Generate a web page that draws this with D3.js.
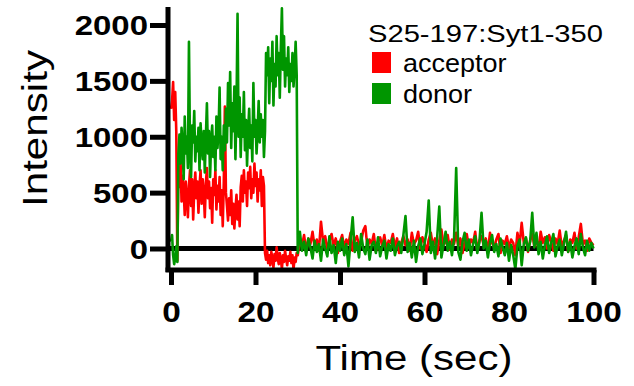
<!DOCTYPE html>
<html>
<head>
<meta charset="utf-8">
<script src="https://cdn.jsdelivr.net/npm/d3@7"></script>
<style>
  html, body { margin: 0; padding: 0; background: #fff; }
  svg { display: block; font-family: "Liberation Sans", Arial, Helvetica, sans-serif; }
</style>
</head>
<body>
<svg id="chart" width="634" height="386"></svg>
<script>
// ---------------- DATA ----------------
const xTicks = [0, 20, 40, 60, 80, 100];
const yTicks = [0, 500, 1000, 1500, 2000];
const legendTitle = "S25-197:Syt1-350";
const seriesNames = ["acceptor", "donor"];
const xLabel = "Time (sec)";
const yLabel = "Intensity";

// segment 1: t = 0 .. 29.75 s, sampled every 0.25 s
const seg1Start = 0, seg1Step = 0.25;
const acceptorSeg1 = [
  1250, 1320, 1490, 1150, 1400, 1050, -110, 700, 550, 800,
  420, 650, 520, 300, 600, 460, 280, 560, 700, 380,
  620, 260, 520, 680, 450, 600, 320, 560, 700, 400,
  620, 500, 280, 580, 720, 450, 600, 360, 540, 230,
  620, 480, 700, 350, 560, 420, 640, 300, 520, 200,
  600, 1270, 500, 380, 250, 450, 300, 520, 220, 400,
  180, 350, 480, 260, 420, 200, 550, 650, 420, 700,
  500, 600, 380, 680, 540, 730, 450, 620, 500, 760,
  560, 680, 420, 620, 520, 700, 380, 640, 560, -40,
  -100, -20, -130, -60, -150, -30, -90, -170, -50, -110,
  10, -80, -140, -40, -100, -180, -60, -120, -20, -90,
  -150, -70, -110, -30, -130, -60, -190, -80, -120, -40
];
const donorSeg1 = [
  60, 120, -60, -140, -90, 20, -120, 850, 1020, 760,
  1080, 900, 620, 1180, 850, 1000, 720, 1850, 900, 640,
  1100, 950, 1230, 780, 1000, 870, 1080, 700, 1120, 930,
  800, 1050, 680, 1000, 1300, 850, 1050, 640, 960, 1100,
  820, 1000, 700, 1180, 900, 1040, 1440, 800, 1000, 700,
  1100, 880, 1250, 950, 1480, 1100, 1580, 900, 1300, 1050,
  1450, 800, 1250, 2100, 1000, 1350, 820, 1200, 1000, 1400,
  880, 1150, 740, 1050, 1250, 900, 1100, 780, 1480, 1000,
  1150, 850, 1050, 1320, 950, 1200, 1000, 1150, 820, 1050,
  1750, 1550, 1800, 1300, 1700, 1500, 1850, 1280, 1650, 1450,
  1900, 1550, 1750, 1350, 1800, 2150, 1600, 1900, 1450, 1700,
  1550, 1800, 1400, 1650, 1500, 1750, 1450, 1600, 1850, 1550
];

// segment 2: t = 30 .. 100 s, sampled every 0.5 s
const seg2Start = 30, seg2Step = 0.5;
const acceptorSeg2 = [
  -60, 80, 20, 120, -30, 90, 40, 150, 10, 80,
  -20, 240, 60, 110, -10, 70, 130, 20, 90, -40,
  60, 120, 10, 80, 40, 140, -20, 70, 110, 30,
  60, 160, 200, 0, 80, 40, 130, -30, 60, 100,
  20, 120, -10, 70, 50, 130, 10, 90, -40, 50,
  110, 30, 80, -20, 140, 40, 70, 150, 0, 100,
  50, -30, 80, 140, 20, 90, -50, 70, 170, 30,
  60, 120, -10, 80, 40, 140, 20, 90, -40, 60,
  130, 10, 80, 50, 150, -20, 70, 110, 30, 90,
  -30, 140, 50, 10, 80, 130, -40, 70, 40, 110,
  0, 80, 50, -60, 140, 30, 230, 50, 90, -30,
  70, 130, 20, 80, -10, 150, 50, 100, 0, 120,
  60, -20, 90, 40, 160, 10, 70, 120, -30, 80,
  50, 140, 0, 100, 220, 40, 70, -20, 90, 50,
  30
];
const donorSeg2 = [
  -40, 150, -20, 60, -60, 90, 10, -90, 70, -30,
  40, -110, 80, 0, -70, 110, -40, 30, -130, 60,
  -20, 90, -60, 40, -160, 70, 280, -30, 50, -80,
  130, 0, -50, 80, -100, 30, 60, -40, 100, -70,
  20, 70, -90, 40, -20, 90, -60, 20, 60, -40,
  120, 290, -30, 50, -80, 70, -120, 20, 90, -50,
  40, 150, 430, -40, 60, -90, 100, 375, -80, 30,
  150, -20, 60, -60, 90, 720, -30, -100, 60, 140,
  -20, 80, -60, 40, 110, -40, 60, 320, 0, 70,
  -80, 50, 120, -30, 40, -70, 90, 10, -60, 50,
  -110, 30, -60, -185, 20, 80, -150, 40, 100, -20,
  60, 320, 10, 140, -50, 60, -90, 30, 110, -40,
  50, 130, -70, 20, 80, -60, 40, 150, -30, 60,
  -80, 20, 90, -50, 130, 10, -60, 70, -20, 50,
  0
];

// ---------------- CHART ----------------
const colors = { acceptor: "#ff0000", donor: "#009600" };

function toPoints(vals, start, step) {
  return vals.map((v, i) => ({ t: start + i * step, v: v }));
}
const acceptor = toPoints(acceptorSeg1, seg1Start, seg1Step)
  .concat(toPoints(acceptorSeg2, seg2Start, seg2Step));
const donor = toPoints(donorSeg1, seg1Start, seg1Step)
  .concat(toPoints(donorSeg2, seg2Start, seg2Step));

const svg = d3.select("#chart");

const x = d3.scaleLinear().domain([0, 100]).range([171, 593.5]);
const y = d3.scaleLinear().domain([0, 2000]).range([248.5, 25]);

const yTop = 7, yBottom = 272;   // y axis line extent
const xAxisY = 270;
const yAxisX = 168;

function stretch(sel, k) {
  sel.each(function () {
    const w = this.getComputedTextLength();
    d3.select(this).attr("textLength", w * k).attr("lengthAdjust", "spacingAndGlyphs");
  });
}

// zero line (drawn beneath data)
svg.append("line")
  .attr("x1", yAxisX).attr("x2", x(100))
  .attr("y1", y(0)).attr("y2", y(0))
  .attr("stroke", "#000").attr("stroke-width", 5);

// data lines
const line = d3.line().x(d => x(d.t)).y(d => y(d.v));
svg.append("path").datum(acceptor)
  .attr("d", line).attr("fill", "none")
  .attr("stroke", colors.acceptor).attr("stroke-width", 2.6)
  .attr("stroke-linejoin", "round");
svg.append("path").datum(donor)
  .attr("d", line).attr("fill", "none")
  .attr("stroke", colors.donor).attr("stroke-width", 2.6)
  .attr("stroke-linejoin", "round");

// Y axis
const yAxis = d3.axisLeft(y).tickValues(yTicks).tickSize(18).tickPadding(2).tickFormat(d3.format("d"));
const gy = svg.append("g").attr("transform", `translate(${yAxisX},0)`).call(yAxis);
gy.select(".domain").remove();
gy.selectAll(".tick line").attr("stroke", "#000").attr("stroke-width", 5);
gy.selectAll(".tick text")
  .attr("fill", "#000")
  .style("font-size", "27px").style("font-weight", "bold")
  .attr("dy", "0.36em");
stretch(gy.selectAll(".tick text"), 1.22);
svg.append("line")
  .attr("x1", yAxisX).attr("x2", yAxisX)
  .attr("y1", yTop).attr("y2", yBottom)
  .attr("stroke", "#000").attr("stroke-width", 5);

// X axis
const xAxis = d3.axisBottom(x).tickValues(xTicks).tickSize(15).tickPadding(16).tickFormat(d3.format("d"));
const gx = svg.append("g").attr("transform", `translate(0,${xAxisY})`).call(xAxis);
gx.select(".domain").remove();
gx.selectAll(".tick line").attr("stroke", "#000").attr("stroke-width", 5);
gx.selectAll(".tick text")
  .attr("fill", "#000")
  .style("font-size", "29px").style("font-weight", "bold")
  .attr("dy", "0.71em");
stretch(gx.selectAll(".tick text"), 1.15);
svg.append("line")
  .attr("x1", yAxisX - 2.5).attr("x2", x(100) + 3)
  .attr("y1", xAxisY).attr("y2", xAxisY)
  .attr("stroke", "#000").attr("stroke-width", 5);

// axis titles
svg.append("text")
  .attr("x", 414).attr("y", 370)
  .attr("text-anchor", "middle")
  .style("font-size", "35px")
  .attr("textLength", 197).attr("lengthAdjust", "spacingAndGlyphs")
  .text(xLabel);

svg.append("text")
  .attr("transform", "translate(47,128.5) rotate(-90)")
  .attr("text-anchor", "middle")
  .style("font-size", "35px")
  .attr("textLength", 157).attr("lengthAdjust", "spacingAndGlyphs")
  .text(yLabel);

// legend
const lg = svg.append("g");
lg.append("text")
  .attr("x", 368).attr("y", 42)
  .style("font-size", "24px")
  .attr("textLength", 235).attr("lengthAdjust", "spacingAndGlyphs")
  .text(legendTitle);
seriesNames.forEach((name, i) => {
  const top = 52 + i * 31;
  lg.append("rect")
    .attr("x", 372).attr("y", top).attr("width", 19).attr("height", 21)
    .attr("fill", colors[name]);
  const t = lg.append("text")
    .attr("x", 403).attr("y", top + 20)
    .style("font-size", "25px")
    .text(name);
  stretch(t, 1.08);
});
</script>
</body>
</html>
